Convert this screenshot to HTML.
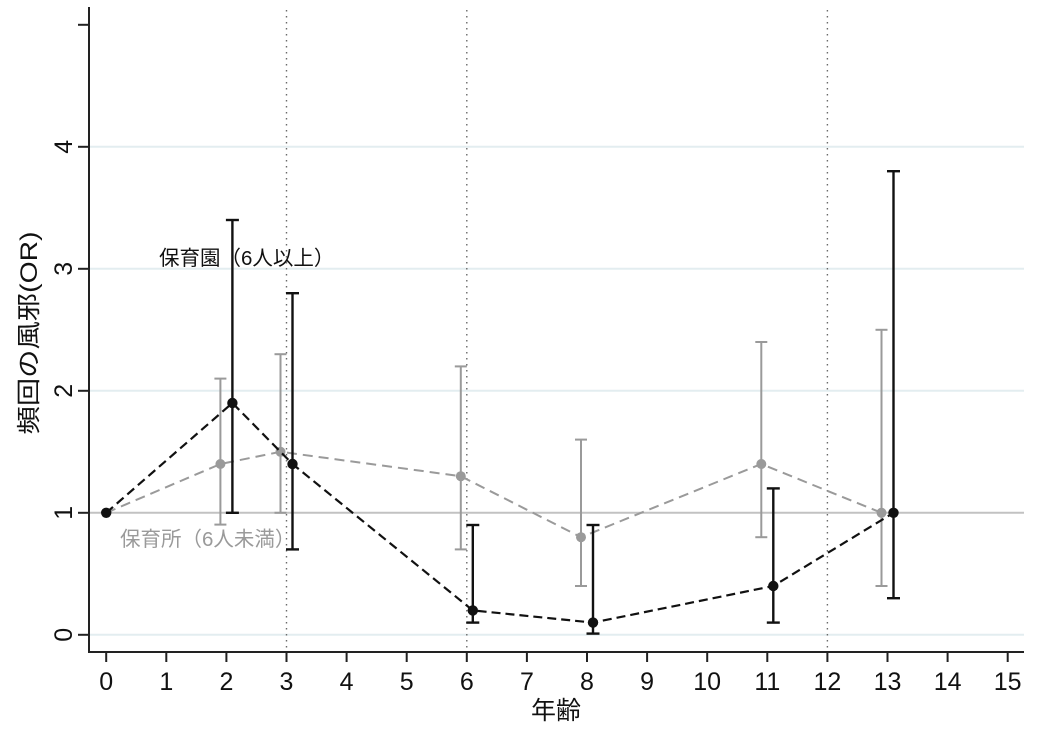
<!DOCTYPE html>
<html><head><meta charset="utf-8">
<style>
html,body{margin:0;padding:0;background:#fff;}
svg{display:block;}
text{font-family:"Liberation Sans","Noto Sans CJK JP",sans-serif;}
</style></head>
<body>
<svg width="1038" height="736" viewBox="0 0 1038 736" xmlns="http://www.w3.org/2000/svg">
<rect width="1038" height="736" fill="#fff"/>
<!-- grid -->
<g stroke="#e3edf0" stroke-width="2">
<line x1="90" y1="634.8" x2="1024" y2="634.8"/>
<line x1="90" y1="390.8" x2="1024" y2="390.8"/>
<line x1="90" y1="268.8" x2="1024" y2="268.8"/>
<line x1="90" y1="146.8" x2="1024" y2="146.8"/>
</g>
<!-- reference line at 1 -->
<line x1="90" y1="512.8" x2="1024" y2="512.8" stroke="#c2c2c2" stroke-width="2"/>
<!-- vertical dotted lines -->
<g stroke="#6a6a6a" stroke-width="1.4" stroke-dasharray="1.5 4.5">
<line x1="286.5" y1="10" x2="286.5" y2="650"/>
<line x1="466.8" y1="10" x2="466.8" y2="650"/>
<line x1="827.4" y1="10" x2="827.4" y2="650"/>
</g>
<!-- gray series -->
<g stroke="#9a9a9a" stroke-width="2" fill="none">
<line x1="220.4" y1="378.6" x2="220.4" y2="524.6"/><line x1="214.4" y1="378.6" x2="226.4" y2="378.6"/><line x1="214.4" y1="524.6" x2="226.4" y2="524.6"/>
<line x1="280.5" y1="354.2" x2="280.5" y2="512.8"/><line x1="274.5" y1="354.2" x2="286.5" y2="354.2"/><line x1="274.5" y1="512.8" x2="286.5" y2="512.8"/>
<line x1="460.8" y1="366.4" x2="460.8" y2="549.4"/><line x1="454.8" y1="366.4" x2="466.8" y2="366.4"/><line x1="454.8" y1="549.4" x2="466.8" y2="549.4"/>
<line x1="581.0" y1="439.6" x2="581.0" y2="586.0"/><line x1="575.0" y1="439.6" x2="587.0" y2="439.6"/><line x1="575.0" y1="586.0" x2="587.0" y2="586.0"/>
<line x1="761.3" y1="342.0" x2="761.3" y2="537.2"/><line x1="755.3" y1="342.0" x2="767.3" y2="342.0"/><line x1="755.3" y1="537.2" x2="767.3" y2="537.2"/>
<line x1="881.5" y1="329.8" x2="881.5" y2="586.0"/><line x1="875.5" y1="329.8" x2="887.5" y2="329.8"/><line x1="875.5" y1="586.0" x2="887.5" y2="586.0"/>
</g>
<polyline points="106.2,512.8 220.4,464.0 280.5,451.8 460.8,476.2 581.0,537.2 761.3,464.0 881.5,512.8" fill="none" stroke="#9a9a9a" stroke-width="2" stroke-dasharray="10 6"/>
<g fill="#9a9a9a">
<circle cx="220.4" cy="464.0" r="5"/><circle cx="280.5" cy="451.8" r="5"/><circle cx="460.8" cy="476.2" r="5"/><circle cx="581.0" cy="537.2" r="5"/><circle cx="761.3" cy="464.0" r="5"/><circle cx="881.5" cy="512.8" r="5"/>
</g>
<!-- black series -->
<g stroke="#111" stroke-width="2.4" fill="none">
<line x1="232.4" y1="220.0" x2="232.4" y2="512.8"/><line x1="225.9" y1="220.0" x2="238.9" y2="220.0"/><line x1="225.9" y1="512.8" x2="238.9" y2="512.8"/>
<line x1="292.5" y1="293.2" x2="292.5" y2="549.4"/><line x1="286.0" y1="293.2" x2="299.0" y2="293.2"/><line x1="286.0" y1="549.4" x2="299.0" y2="549.4"/>
<line x1="472.8" y1="525.0" x2="472.8" y2="622.6"/><line x1="466.3" y1="525.0" x2="479.3" y2="525.0"/><line x1="466.3" y1="622.6" x2="479.3" y2="622.6"/>
<line x1="593.0" y1="525.0" x2="593.0" y2="633.6"/><line x1="586.5" y1="525.0" x2="599.5" y2="525.0"/><line x1="586.5" y1="633.6" x2="599.5" y2="633.6"/>
<line x1="773.3" y1="488.4" x2="773.3" y2="622.6"/><line x1="766.8" y1="488.4" x2="779.8" y2="488.4"/><line x1="766.8" y1="622.6" x2="779.8" y2="622.6"/>
<line x1="893.5" y1="171.2" x2="893.5" y2="598.2"/><line x1="887.0" y1="171.2" x2="900.0" y2="171.2"/><line x1="887.0" y1="598.2" x2="900.0" y2="598.2"/>
</g>
<polyline points="106.2,512.8 232.4,403.0 292.5,464.0 472.8,610.4 593.0,622.6 773.3,586.0 893.5,512.8" fill="none" stroke="#111" stroke-width="2.2" stroke-dasharray="9 5"/>
<g fill="#111">
<circle cx="106.2" cy="512.8" r="5.2"/><circle cx="232.4" cy="403.0" r="5.2"/><circle cx="292.5" cy="464.0" r="5.2"/><circle cx="472.8" cy="610.4" r="5.2"/><circle cx="593.0" cy="622.6" r="5.2"/><circle cx="773.3" cy="586.0" r="5.2"/><circle cx="893.5" cy="512.8" r="5.2"/>
</g>
<!-- in-plot labels -->
<text x="159" y="265" font-size="20.5" fill="#111">保育園（6人以上）</text>
<text x="120" y="546" font-size="20.5" fill="#9a9a9a">保育所（6人未満）</text>
<!-- axes -->
<g stroke="#222" stroke-width="2">
<line x1="89" y1="7" x2="89" y2="653"/>
<line x1="88" y1="652" x2="1024" y2="652"/>
<line x1="78" y1="634.8" x2="89" y2="634.8"/>
<line x1="78" y1="512.8" x2="89" y2="512.8"/>
<line x1="78" y1="390.8" x2="89" y2="390.8"/>
<line x1="78" y1="268.8" x2="89" y2="268.8"/>
<line x1="78" y1="146.8" x2="89" y2="146.8"/>
<line x1="78" y1="24.8" x2="89" y2="24.8"/>
<line x1="106.2" y1="652" x2="106.2" y2="662"/>
<line x1="166.3" y1="652" x2="166.3" y2="662"/>
<line x1="226.4" y1="652" x2="226.4" y2="662"/>
<line x1="286.5" y1="652" x2="286.5" y2="662"/>
<line x1="346.6" y1="652" x2="346.6" y2="662"/>
<line x1="406.7" y1="652" x2="406.7" y2="662"/>
<line x1="466.8" y1="652" x2="466.8" y2="662"/>
<line x1="526.9" y1="652" x2="526.9" y2="662"/>
<line x1="587.0" y1="652" x2="587.0" y2="662"/>
<line x1="647.1" y1="652" x2="647.1" y2="662"/>
<line x1="707.2" y1="652" x2="707.2" y2="662"/>
<line x1="767.3" y1="652" x2="767.3" y2="662"/>
<line x1="827.4" y1="652" x2="827.4" y2="662"/>
<line x1="887.5" y1="652" x2="887.5" y2="662"/>
<line x1="947.6" y1="652" x2="947.6" y2="662"/>
<line x1="1007.7" y1="652" x2="1007.7" y2="662"/>
</g>
<!-- x tick labels -->
<g font-size="25" fill="#111" text-anchor="middle">
<text x="106.2" y="690">0</text>
<text x="166.3" y="690">1</text>
<text x="226.4" y="690">2</text>
<text x="286.5" y="690">3</text>
<text x="346.6" y="690">4</text>
<text x="406.7" y="690">5</text>
<text x="466.8" y="690">6</text>
<text x="526.9" y="690">7</text>
<text x="587.0" y="690">8</text>
<text x="647.1" y="690">9</text>
<text x="707.2" y="690">10</text>
<text x="767.3" y="690">11</text>
<text x="827.4" y="690">12</text>
<text x="887.5" y="690">13</text>
<text x="947.6" y="690">14</text>
<text x="1007.7" y="690">15</text>
</g>
<!-- y tick labels -->
<g font-size="25" fill="#111" text-anchor="middle">
<text transform="translate(72,634.8) rotate(-90)">0</text>
<text transform="translate(72,512.8) rotate(-90)">1</text>
<text transform="translate(72,390.8) rotate(-90)">2</text>
<text transform="translate(72,268.8) rotate(-90)">3</text>
<text transform="translate(72,146.8) rotate(-90)">4</text>
</g>
<!-- axis titles -->
<text x="556" y="719" font-size="25" fill="#111" text-anchor="middle">年齢</text>
<text transform="translate(37,333) rotate(-90)" font-size="24" fill="#111" text-anchor="middle" textLength="203" lengthAdjust="spacingAndGlyphs">頻回の風邪(OR)</text>
</svg>
</body></html>
